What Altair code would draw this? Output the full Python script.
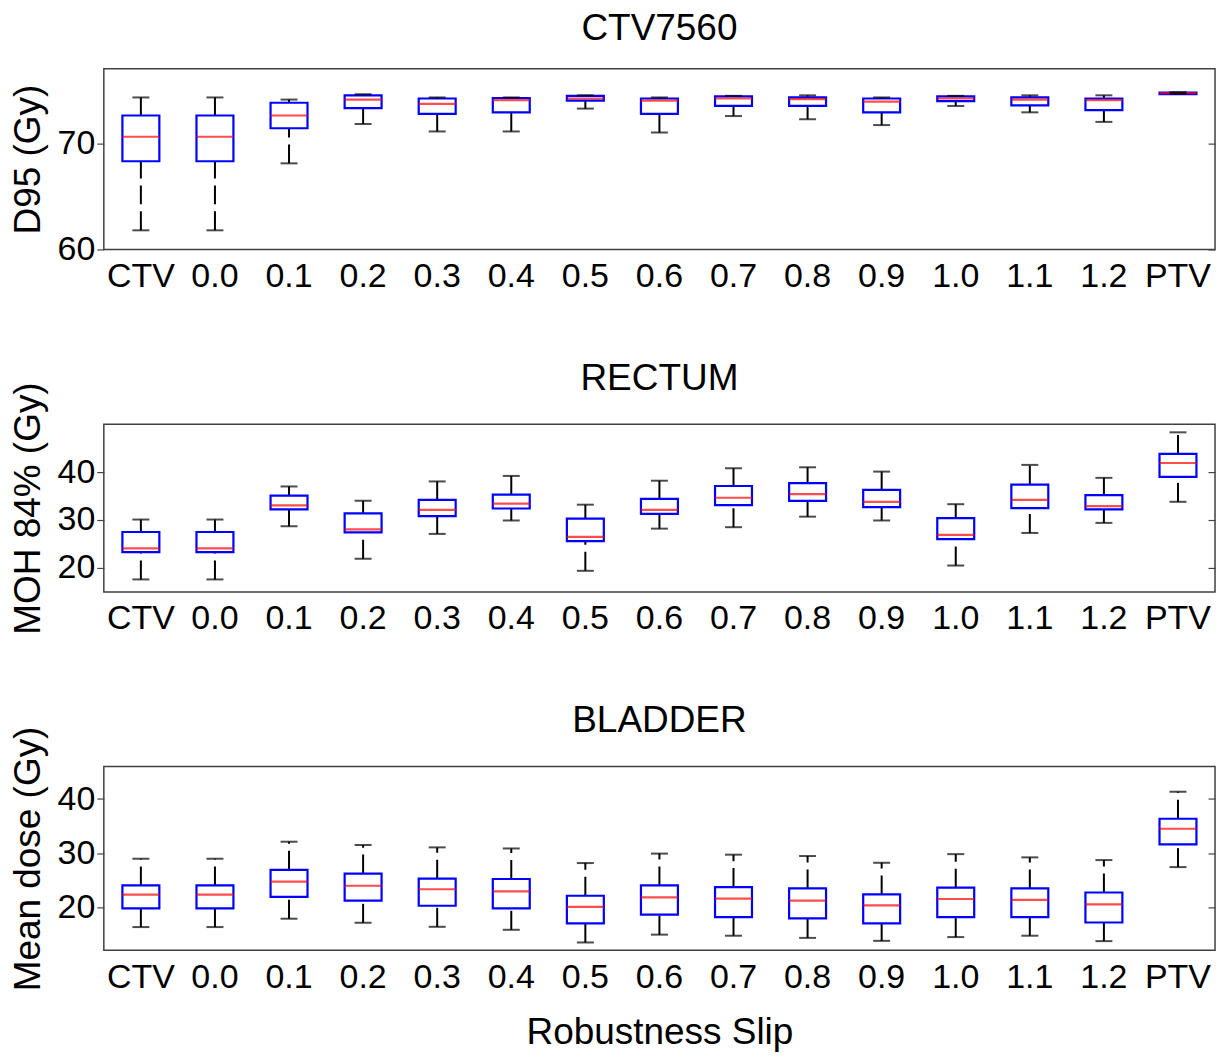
import altair as alt
import pandas as pd

cats = ["CTV", "0.0", "0.1", "0.2", "0.3", "0.4", "0.5", "0.6", "0.7", "0.8", "0.9", "1.0", "1.1", "1.2", "PTV"]

# CTV7560 D95 (Gy)
ctv_lo = [61.8, 61.8, 68.1, 71.8, 71.1, 71.1, 73.25, 71.0, 72.55, 72.25, 71.7, 73.5, 72.9, 72.0, 74.65]
ctv_q1 = [68.3, 68.3, 71.4, 73.3, 72.75, 72.9, 74.0, 72.75, 73.5, 73.5, 72.9, 73.95, 73.55, 73.1, 74.62]
ctv_med = [70.6, 70.6, 72.6, 74.1, 73.7, 74.05, 74.2, 74.0, 74.2, 74.15, 73.9, 74.2, 74.1, 74.05, 74.7]
ctv_q3 = [72.6, 72.6, 73.8, 74.5, 74.2, 74.25, 74.45, 74.2, 74.4, 74.3, 74.2, 74.4, 74.3, 74.2, 74.76]
ctv_hi = [74.3, 74.3, 74.1, 74.6, 74.3, 74.3, 74.5, 74.3, 74.45, 74.5, 74.3, 74.45, 74.5, 74.5, 74.8]

# RECTUM MOH 84% (Gy)
rec_lo = [17.6, 17.6, 28.7, 21.9, 27.1, 29.9, 19.4, 28.2, 28.5, 30.7, 29.9, 20.5, 27.3, 29.4, 33.8]
rec_q1 = [23.3, 23.3, 32.2, 27.4, 30.8, 32.4, 25.6, 31.3, 33.1, 34.0, 32.7, 26.0, 32.5, 32.2, 39.0]
rec_med = [24.1, 24.1, 33.05, 28.05, 32.1, 33.4, 26.5, 32.1, 34.65, 35.4, 33.8, 26.9, 34.2, 32.9, 41.9]
rec_q3 = [27.5, 27.5, 35.1, 31.4, 34.2, 35.3, 30.3, 34.4, 37.1, 37.7, 36.3, 30.4, 37.4, 35.2, 43.8]
rec_hi = [30.1, 30.1, 37.0, 34.0, 38.05, 39.2, 33.2, 38.2, 40.8, 41.0, 40.1, 33.3, 41.5, 38.8, 48.3]

# BLADDER Mean dose (Gy)
bla_lo = [16.3, 16.3, 17.85, 17.1, 16.35, 15.8, 13.45, 14.9, 14.7, 14.3, 13.75, 14.45, 14.7, 13.7, 27.4]
bla_q1 = [19.75, 19.75, 21.9, 21.2, 20.25, 19.75, 17.0, 18.6, 18.15, 17.9, 17.0, 18.15, 18.15, 17.15, 31.6]
bla_med = [22.3, 22.3, 24.7, 23.95, 23.3, 22.9, 20.05, 21.8, 21.55, 21.2, 20.3, 21.5, 21.35, 20.5, 34.5]
bla_q3 = [24.0, 24.0, 26.9, 26.2, 25.25, 25.2, 22.1, 24.0, 23.7, 23.45, 22.35, 23.6, 23.45, 22.7, 36.35]
bla_hi = [28.95, 28.95, 32.1, 31.5, 31.05, 30.85, 28.15, 29.9, 29.7, 29.45, 28.2, 29.8, 29.2, 28.7, 41.35]

FONT = "Liberation Sans"
W = 1113


def panel(title, ytitle, lo, q1, med, q3, hi, domain, ticks, height, title_offset, xtitle=None):
    df = pd.DataFrame({"cat": cats, "lo": lo, "q1": q1, "med": med, "q3": q3, "hi": hi})
    base = alt.Chart(df)
    xaxis = alt.Axis(labelAngle=0, labelOverlap=False, ticks=False, domain=False,
                     labelFontSize=34, labelFont=FONT, labelColor="black", labelPadding=10,
                     titleFontSize=37, titleFont=FONT, titleFontWeight="normal",
                     titleColor="black", titlePadding=20)
    x = alt.X("cat:N", sort=cats, scale=alt.Scale(type="band", paddingInner=0, paddingOuter=0),
              axis=xaxis, title=xtitle)
    ysc = alt.Scale(domain=domain, zero=False, nice=False)
    left_axis = alt.Axis(values=ticks, orient="left", grid=False, domain=False, tickSize=7,
                         tickColor="#444444", tickWidth=1.2, labelFontSize=34, labelFont=FONT,
                         labelColor="black", labelPadding=2, titleFontSize=37, titleFont=FONT,
                         titleFontWeight="normal", titleColor="black", titlePadding=10)
    right_axis = alt.Axis(values=ticks, orient="right", grid=False, domain=False, labels=False,
                          tickSize=7, offset=-7, tickColor="#444444", tickWidth=1.2)
    whisk_lo = base.mark_rule(color="black", strokeWidth=2, strokeDash=[19, 7]).encode(
        x=x, y=alt.Y("lo:Q", scale=ysc, axis=left_axis, title=ytitle), y2="q1:Q")
    whisk_hi = base.mark_rule(color="black", strokeWidth=2, strokeDash=[19, 7]).encode(
        x=x, y=alt.Y("q3:Q", scale=ysc, axis=right_axis, title=None), y2="hi:Q")
    box = base.mark_bar(size=37, fill="white", stroke="#0000ff", strokeWidth=2.2).encode(
        x=x, y=alt.Y("q1:Q", scale=ysc, axis=None), y2="q3:Q")
    medm = base.mark_tick(orient="horizontal", size=37, thickness=2.2, color="#ff0000").encode(
        x=x, y=alt.Y("med:Q", scale=ysc, axis=None))
    cap_lo = base.mark_tick(orient="horizontal", size=17, thickness=2, color="black").encode(
        x=x, y=alt.Y("lo:Q", scale=ysc, axis=None))
    cap_hi = base.mark_tick(orient="horizontal", size=17, thickness=2, color="black").encode(
        x=x, y=alt.Y("hi:Q", scale=ysc, axis=None))
    return alt.layer(whisk_lo, whisk_hi, box, medm, cap_lo, cap_hi).resolve_axis(
        y="independent").properties(
        width=W, height=height,
        view=alt.ViewBackground(stroke="#404040", strokeWidth=1.5, fill="white"),
        title=alt.TitleParams(title, fontSize=37, font=FONT, fontWeight="normal", color="black",
                              anchor="middle", frame="group", offset=title_offset))


p1 = panel("CTV7560", "D95 (Gy)", ctv_lo, ctv_q1, ctv_med, ctv_q3, ctv_hi, [60, 77], [60, 70], 181, 21)
p2 = panel("RECTUM", "MOH 84% (Gy)", rec_lo, rec_q1, rec_med, rec_q3, rec_hi, [15, 50], [20, 30, 40], 168, -16)
p3 = panel("BLADDER", "Mean dose (Gy)", bla_lo, bla_q1, bla_med, bla_q3, bla_hi, [12, 46], [20, 30, 40], 184, -14,
           xtitle="Robustness Slip")

chart = alt.vconcat(p1, p2, p3, spacing=64).properties(
    padding={"left": 8, "top": 8, "right": 10, "bottom": 0}
).configure_view(stroke="#404040", strokeWidth=1.5).configure(background="white")

chart.save("out.html", embed_options={"renderer": "svg", "actions": False})
